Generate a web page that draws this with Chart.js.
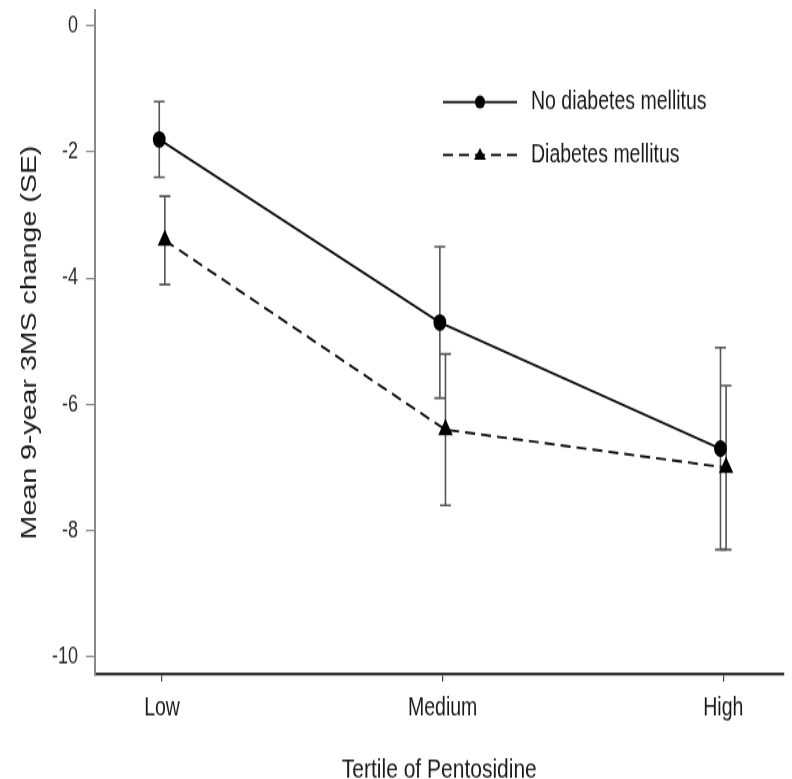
<!DOCTYPE html>
<html>
<head>
<meta charset="utf-8">
<script src="https://cdn.jsdelivr.net/npm/chart.js@4.4.1/dist/chart.umd.min.js"></script>
<style>
  html, body { margin: 0; padding: 0; background: #fff; }
  #page { width: 792px; height: 779px; position: relative; }
  /* figure is drawn at 600px height and stretched tall */
  #wrap { position: absolute; left: 0; top: 0; width: 792px; height: 600px; transform: scaleY(1.2983); transform-origin: 0 0; }
</style>
</head>
<body>
<div id="page"><div id="wrap"><canvas id="meanChart" width="792" height="600"></canvas></div></div>
<script>
// tertiles on the x axis
const tertiles = ["Low", "Medium", "High"];
const yTicks = [0, -2, -4, -6, -8, -10];

// mean 9-year 3MS change and SE limits
const noDmMean = [-1.8, -4.7, -6.7];
const noDmHi = [-1.2, -3.5, -5.1];
const noDmLo = [-2.4, -5.9, -8.3];

const dmMean = [-3.4, -6.4, -7.0];
const dmHi = [-2.7, -5.2, -5.7];
const dmLo = [-4.1, -7.6, -8.3];

const seriesNames = ["No diabetes mellitus", "Diabetes mellitus"];

const FONT = "'Liberation Sans', Arial, sans-serif";

// small horizontal shift so the two error bars don't sit on top of each other
function toPoints(vals, shift) {
  return vals.map((v, i) => ({ x: i + shift, y: v }));
}

// error bars behind the markers
const errorBars = {
  id: "errorBars",
  beforeDatasetsDraw(chart) {
    const ctx = chart.ctx;
    const ys = chart.scales.y;
    chart.data.datasets.forEach((ds, di) => {
      const meta = chart.getDatasetMeta(di);
      meta.data.forEach((pt, i) => {
        const top = ys.getPixelForValue(ds.errHi[i]);
        const bot = ys.getPixelForValue(ds.errLo[i]);
        ctx.save();
        ctx.strokeStyle = "#555";
        ctx.lineWidth = 1.6;
        ctx.beginPath();
        ctx.moveTo(pt.x, top); ctx.lineTo(pt.x, bot);
        ctx.moveTo(pt.x - 5.5, top); ctx.lineTo(pt.x + 5.5, top);
        ctx.moveTo(pt.x - 5.5, bot); ctx.lineTo(pt.x + 5.5, bot);
        ctx.stroke();
        ctx.restore();
      });
    });
  }
};

// legend in the upper right of the plot
const innerLegend = {
  id: "innerLegend",
  afterDraw(chart) {
    const ctx = chart.ctx;
    const rows = [78.6, 119.4];
    chart.data.datasets.forEach((ds, di) => {
      const y = rows[di];
      ctx.save();
      ctx.strokeStyle = "#000";
      ctx.lineWidth = 1.8;
      ctx.setLineDash(ds.borderDash || []);
      ctx.beginPath();
      ctx.moveTo(443, y); ctx.lineTo(517, y);
      ctx.stroke();
      ctx.setLineDash([]);
      ctx.fillStyle = "#000";
      if (ds.pointStyle === "triangle") {
        ctx.beginPath();
        ctx.moveTo(480, y - 5.5); ctx.lineTo(486, y + 3.5); ctx.lineTo(474, y + 3.5);
        ctx.closePath(); ctx.fill();
      } else {
        ctx.beginPath();
        ctx.arc(480, y, 5, 0, Math.PI * 2);
        ctx.fill();
      }
      ctx.font = "19.5px " + FONT;
      ctx.fillStyle = "#1a1a1a";
      ctx.textBaseline = "middle";
      ctx.fillText(ds.label, 531, y);
      ctx.restore();
    });
  }
};

const ctx = document.getElementById("meanChart").getContext("2d");
new Chart(ctx, {
  type: "line",
  data: {
    datasets: [
      {
        label: seriesNames[0],
        data: toPoints(noDmMean, -0.01),
        errHi: noDmHi, errLo: noDmLo,
        borderColor: "#111", borderWidth: 1.9,
        pointStyle: "circle", pointRadius: 5.5,
        pointBackgroundColor: "#000", pointBorderColor: "#000",
        tension: 0
      },
      {
        label: seriesNames[1],
        data: toPoints(dmMean, 0.01),
        errHi: dmHi, errLo: dmLo,
        borderColor: "#111", borderWidth: 1.9, borderDash: [10, 6],
        pointStyle: "triangle", pointRadius: 6.5,
        pointBackgroundColor: "#000", pointBorderColor: "#000",
        tension: 0
      }
    ]
  },
  options: {
    responsive: false,
    animation: false,
    devicePixelRatio: 1,
    layout: { padding: { top: 5.4, right: 0, left: 0, bottom: 0 } },
    plugins: {
      legend: { display: false },
      tooltip: { enabled: false }
    },
    scales: {
      x: {
        type: "linear",
        min: -0.239,
        max: 2.215,
        afterFit(scale) {
          scale.height = 80.9;
          scale.paddingLeft = 0;
          scale.paddingRight = 0;
        },
        afterBuildTicks(scale) {
          scale.ticks = tertiles.map((t, i) => ({ value: i }));
        },
        ticks: {
          callback: (v) => tertiles[v],
          font: { family: FONT, size: 19.5 },
          color: "#1a1a1a",
          padding: 9,
          maxRotation: 0
        },
        grid: { drawOnChartArea: false, drawTicks: true, tickLength: 6, color: "#444", lineWidth: 1.2 },
        border: { display: true, color: "#333", width: 2.2 },
        title: {
          display: true,
          text: "Tertile of Pentosidine",
          font: { family: FONT, size: 21 },
          color: "#1a1a1a",
          padding: { top: -6, bottom: -6 }
        }
      },
      y: {
        min: -10.27,
        max: 0.236,
        afterFit(scale) {
          scale.width = 95;
          scale.paddingTop = 0;
          scale.paddingBottom = 0;
        },
        afterBuildTicks(scale) {
          scale.ticks = yTicks.map(v => ({ value: v }));
        },
        ticks: {
          font: { family: FONT, size: 18 },
          color: "#2a2a2a",
          padding: 8
        },
        grid: { drawOnChartArea: false, drawTicks: true, tickLength: 9, color: "#888", lineWidth: 1.2 },
        border: { display: true, color: "#888", width: 2 },
        title: {
          display: true,
          text: "Mean 9-year 3MS change (SE)",
          font: { family: FONT, size: 22 },
          color: "#1a1a1a",
          padding: { top: 17, bottom: 0 }
        }
      }
    }
  },
  plugins: [errorBars, innerLegend]
});
</script>
</body>
</html>
